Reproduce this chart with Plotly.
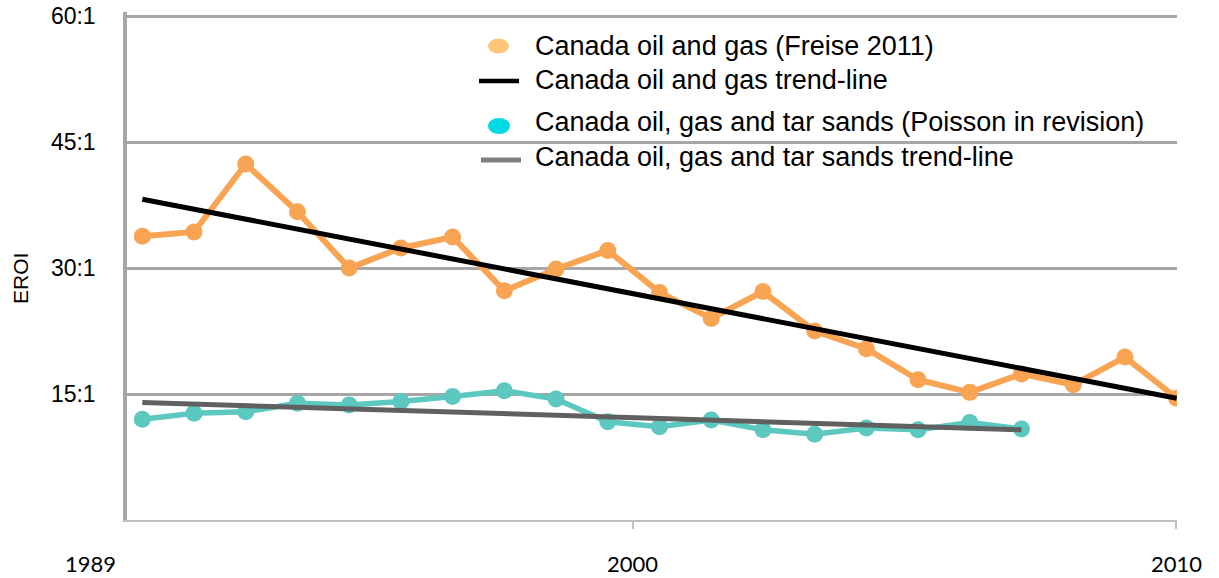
import plotly.graph_objects as go

# ---------------- data ----------------
years_oil_gas = list(range(1990, 2011))
eroi_oil_gas = [33.8, 34.3, 42.4, 36.7, 30.0, 32.4, 33.7, 27.3, 29.9, 32.1,
                27.1, 24.0, 27.2, 22.5, 20.4, 16.7, 15.2, 17.4, 16.1, 19.4, 14.5]

years_tar = list(range(1990, 2008))
eroi_tar = [12.0, 12.7, 12.9, 13.9, 13.7, 14.1, 14.7, 15.4, 14.4, 11.7,
            11.1, 11.9, 10.75, 10.2, 10.95, 10.75, 11.6, 10.85]

trend_oil_years = [1990, 2010]
trend_oil_vals = [38.2, 14.5]
trend_tar_years = [1990, 2007]
trend_tar_vals = [14.0, 10.75]

y_tick_vals = [15, 30, 45, 60]
y_tick_text = ["15:1", "30:1", "45:1", "60:1"]

x_tick_vals = [1999.49, 2009.99]
x_label_pos = [1989.0, 1999.47, 2010.0]
x_label_text = ["1989", "2000", "2010"]

legend_names = ["Canada oil and gas (Freise 2011)",
                "Canada oil and gas trend-line",
                "Canada oil, gas and tar sands (Poisson in revision)",
                "Canada oil, gas and tar sands trend-line"]

# ---------------- layout constants ----------------
W, H = 1219, 578
L, R, T, B = 127, 1177, 12, 520
X0, X1 = 1989.704, 2010.006
Y0, Y1 = 0, 60.5

ORANGE = "#F8A452"
TEAL = "#5CC8BF"
FONT = "Liberation Sans, Arial, sans-serif"


def px(x):
    return (x - L) / (R - L)


def py(y):
    return (B - y) / (B - T)


def yr2paper(v):
    return (v - X0) / (X1 - X0)


fig = go.Figure()

fig.add_trace(go.Scatter(x=years_tar, y=eroi_tar, mode="lines+markers",
                         line=dict(color=TEAL, width=5.5),
                         marker=dict(color=TEAL, size=17),
                         name=legend_names[2], showlegend=False))
fig.add_trace(go.Scatter(x=trend_tar_years, y=trend_tar_vals, mode="lines",
                         line=dict(color="#606060", width=5),
                         name=legend_names[3], showlegend=False))
fig.add_trace(go.Scatter(x=years_oil_gas, y=eroi_oil_gas, mode="lines+markers",
                         line=dict(color=ORANGE, width=6),
                         marker=dict(color=ORANGE, size=17),
                         name=legend_names[0], showlegend=False))
fig.add_trace(go.Scatter(x=trend_oil_years, y=trend_oil_vals, mode="lines",
                         line=dict(color="#000000", width=5),
                         name=legend_names[1], showlegend=False))

annotations = []
shapes = []

# x labels
for pos, txt in zip(x_label_pos, x_label_text):
    annotations.append(dict(x=yr2paper(pos), y=py(563), xref="paper", yref="paper",
                            text=txt, showarrow=False, xanchor="center", yanchor="middle",
                            borderpad=0,
                            font=dict(family="Lato, Carlito, sans-serif", size=22, color="#000")))

# y title
annotations.append(dict(x=px(20), y=py(279), xref="paper", yref="paper", text="EROI",
                        textangle=-90, showarrow=False, xanchor="center", yanchor="middle",
                        font=dict(family=FONT, size=21, color="#000")))

# manual legend
row_y = [46, 80, 122, 157]
for yy, name in zip(row_y, legend_names):
    annotations.append(dict(x=px(533), y=py(yy), xref="paper", yref="paper", text=name,
                            showarrow=False, xanchor="left", yanchor="middle",
                            font=dict(family=FONT, size=27, color="#000")))

shapes.append(dict(type="circle", xref="paper", yref="paper",
                   x0=px(488), x1=px(509), y0=py(53.5), y1=py(38.5),
                   fillcolor="#FFC679", line=dict(width=0)))
shapes.append(dict(type="line", xref="paper", yref="paper",
                   x0=px(479), x1=px(519), y0=py(81), y1=py(81),
                   line=dict(color="#000000", width=4.5)))
shapes.append(dict(type="circle", xref="paper", yref="paper",
                   x0=px(488), x1=px(510), y0=py(134), y1=py(118),
                   fillcolor="#00D9E1", line=dict(width=0)))
shapes.append(dict(type="line", xref="paper", yref="paper",
                   x0=px(481), x1=px(521), y0=py(160), y1=py(160),
                   line=dict(color="#808080", width=5)))

fig.update_layout(
    template="none",
    width=W, height=H,
    margin=dict(l=L, r=W - R, t=T, b=H - B, autoexpand=False),
    paper_bgcolor="white", plot_bgcolor="white",
    showlegend=False,
    annotations=annotations,
    shapes=shapes,
    xaxis=dict(range=[X0, X1], showgrid=False, zeroline=False, automargin=False,
               showline=True, linecolor="#BFBFBF", linewidth=2,
               tickmode="array", tickvals=x_tick_vals, ticktext=["", ""],
               ticks="outside", ticklen=7, tickcolor="#BFBFBF", tickwidth=2),
    yaxis=dict(range=[Y0, Y1], showgrid=True, gridcolor="#A6A6A6", gridwidth=2.5,
               zeroline=False, showline=True, linecolor="#A6A6A6", linewidth=3.5,
               automargin=False,
               tickmode="array", tickvals=y_tick_vals, ticktext=y_tick_text,
               ticks="", ticklabelstandoff=23,
               tickfont=dict(family=FONT, size=23, color="#000")),
)

fig.write_html("out.html",
               config={"displayModeBar": False},
               post_script="document.body.style.margin='0';document.body.style.overflow='hidden';")
